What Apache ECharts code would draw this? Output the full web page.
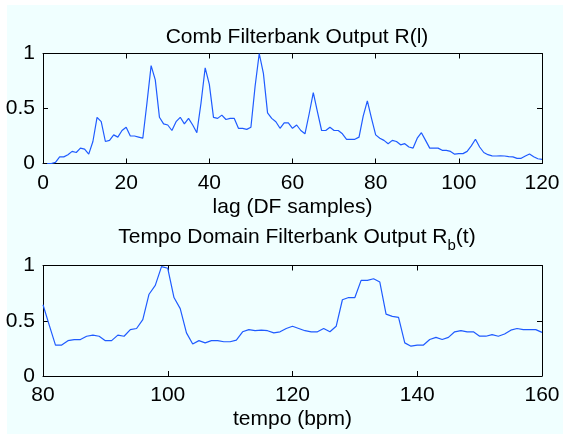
<!DOCTYPE html>
<html>
<head>
<meta charset="utf-8">
<script src="https://cdn.jsdelivr.net/npm/echarts@6/dist/echarts.min.js"></script>
<style>
  html, body { margin: 0; padding: 0; background: #ffffff; }
  #bg { position: absolute; left: 7px; top: 5px; width: 556px; height: 429px; background: #f0ffff; }
  #chart { position: absolute; left: 0; top: 0; width: 563px; height: 434px; }
</style>
</head>
<body>
<div id="bg"></div>
<div id="chart"></div>
<script>
// ---- Data ----
const topTitle = 'Comb Filterbank Output R(l)';
const topXName = 'lag (DF samples)';
const bottomXName = 'tempo (bpm)';
const yTicks = [0, 0.5, 1];

// lag index 1..120
const lags = [];
for (let i = 1; i <= 120; i++) lags.push(i);
const combOutput = [
  0.00, 0.00, 0.01, 0.06, 0.06, 0.08, 0.11, 0.10, 0.14, 0.13,
  0.085, 0.20, 0.42, 0.38, 0.20, 0.21, 0.26, 0.24, 0.30, 0.33,
  0.25, 0.25, 0.24, 0.23, 0.55, 0.89, 0.76, 0.42, 0.36, 0.35,
  0.30, 0.38, 0.42, 0.36, 0.41, 0.35, 0.28, 0.55, 0.87, 0.72,
  0.42, 0.41, 0.44, 0.40, 0.41, 0.41, 0.32, 0.32, 0.31, 0.33,
  0.70, 1.00, 0.82, 0.46, 0.41, 0.38, 0.32, 0.37, 0.37, 0.32,
  0.35, 0.30, 0.27, 0.45, 0.645, 0.47, 0.30, 0.30, 0.33, 0.30,
  0.30, 0.27, 0.22, 0.22, 0.22, 0.24, 0.43, 0.57, 0.41, 0.26,
  0.23, 0.21, 0.18, 0.21, 0.20, 0.17, 0.18, 0.15, 0.14, 0.23,
  0.28, 0.21, 0.14, 0.14, 0.14, 0.12, 0.12, 0.11, 0.085, 0.09,
  0.09, 0.11, 0.16, 0.22, 0.15, 0.10, 0.08, 0.07, 0.068, 0.07,
  0.068, 0.062, 0.06, 0.047, 0.047, 0.068, 0.086, 0.062, 0.043, 0.038
];

// tempo 80..160 bpm
const tempos = [];
for (let t = 80; t <= 160; t++) tempos.push(t);
const tempoOutput = [
  0.645, 0.46, 0.28, 0.28, 0.32, 0.33, 0.33, 0.36, 0.37, 0.36,
  0.32, 0.32, 0.37, 0.36, 0.42, 0.43, 0.51, 0.74, 0.82, 0.99,
  0.975, 0.71, 0.61, 0.39, 0.29, 0.32, 0.30, 0.32, 0.32, 0.31,
  0.31, 0.325, 0.40, 0.42, 0.41, 0.415, 0.41, 0.39, 0.40, 0.43,
  0.45, 0.43, 0.41, 0.40, 0.40, 0.43, 0.40, 0.45, 0.69, 0.71,
  0.71, 0.865, 0.865, 0.88, 0.85, 0.56, 0.54, 0.53, 0.30, 0.27,
  0.28, 0.28, 0.33, 0.35, 0.33, 0.35, 0.40, 0.41, 0.40, 0.40,
  0.36, 0.36, 0.375, 0.36, 0.38, 0.415, 0.43, 0.42, 0.42, 0.42,
  0.395
];

// ---- Chart ----
const FONT = "'Liberation Sans', Arial, Helvetica, sans-serif";
const FS = 21;
const chart = echarts.init(document.getElementById('chart'), null, { renderer: 'canvas' });

function xAxisMain(grid, min, max, interval, name) {
  return {
    type: 'value', gridIndex: grid, position: 'bottom', min, max, interval,
    name, nameLocation: 'middle', nameGap: 33,
    nameTextStyle: { color: '#000', fontFamily: FONT, fontSize: FS },
    axisLine: { show: true, onZero: false, lineStyle: { color: '#000', width: 1 } },
    axisTick: { show: true, inside: true, length: 5, lineStyle: { color: '#000' } },
    axisLabel: { show: true, margin: 9, color: '#000', fontFamily: FONT, fontSize: FS, showMinLabel: true, showMaxLabel: true },
    splitLine: { show: false }
  };
}
function xAxisTop(grid, min, max, interval) {
  return {
    type: 'value', gridIndex: grid, position: 'top', min, max, interval,
    axisLine: { show: true, onZero: false, lineStyle: { color: '#000', width: 1 } },
    axisTick: { show: true, inside: true, length: 5, lineStyle: { color: '#000' } },
    axisLabel: { show: false }, splitLine: { show: false }
  };
}
function yAxisMain(grid) {
  return {
    type: 'value', gridIndex: grid, position: 'left', min: yTicks[0], max: yTicks[2], interval: 0.5,
    axisLine: { show: true, onZero: false, lineStyle: { color: '#000', width: 1 } },
    axisTick: { show: true, inside: true, length: 5, lineStyle: { color: '#000' } },
    axisLabel: { show: true, margin: 8, color: '#000', fontFamily: FONT, fontSize: FS, showMinLabel: true, showMaxLabel: true },
    splitLine: { show: false }
  };
}
function yAxisRight(grid) {
  return {
    type: 'value', gridIndex: grid, position: 'right', min: yTicks[0], max: yTicks[2], interval: 0.5,
    axisLine: { show: true, onZero: false, lineStyle: { color: '#000', width: 1 } },
    axisTick: { show: true, inside: true, length: 5, lineStyle: { color: '#000' } },
    axisLabel: { show: false }, splitLine: { show: false }
  };
}

const option = {
  animation: false,
  backgroundColor: 'transparent',
  title: [
    {
      text: topTitle, left: 292, top: 22, textAlign: 'center',
      textStyle: { color: '#000', fontFamily: FONT, fontSize: FS, fontWeight: 'normal' }
    },
    {
      text: '{a|Tempo Domain Filterbank Output R}{s|b}{a|(t)}', left: 292, top: 222, textAlign: 'center',
      textStyle: {
        color: '#000', fontFamily: FONT, fontSize: FS, fontWeight: 'normal',
        rich: {
          a: { color: '#000', fontFamily: FONT, fontSize: FS, lineHeight: 21, verticalAlign: 'top' },
          s: { color: '#000', fontFamily: FONT, fontSize: 15, lineHeight: 15, padding: [11, 0, 0, 0], verticalAlign: 'top' }
        }
      }
    }
  ],
  grid: [
    { left: 43, right: 21, top: 53.5, height: 110 },
    { left: 43, right: 21, top: 265.5, height: 110.5 }
  ],
  xAxis: [
    xAxisMain(0, 0, 120, 20, topXName),
    xAxisTop(0, 0, 120, 20),
    xAxisMain(1, 80, 160, 20, bottomXName),
    xAxisTop(1, 80, 160, 20)
  ],
  yAxis: [yAxisMain(0), yAxisRight(0), yAxisMain(1), yAxisRight(1)],
  series: [
    {
      type: 'line', xAxisIndex: 0, yAxisIndex: 0, showSymbol: false, symbol: 'none',
      data: lags.map((l, i) => [l, combOutput[i]]),
      lineStyle: { color: '#1f5bff', width: 1.2 }, z: 3
    },
    {
      type: 'line', xAxisIndex: 2, yAxisIndex: 2, showSymbol: false, symbol: 'none',
      data: tempos.map((t, i) => [t, tempoOutput[i]]),
      lineStyle: { color: '#1f5bff', width: 1.2 }, z: 3
    }
  ]
};
chart.setOption(option);
</script>
</body>
</html>
